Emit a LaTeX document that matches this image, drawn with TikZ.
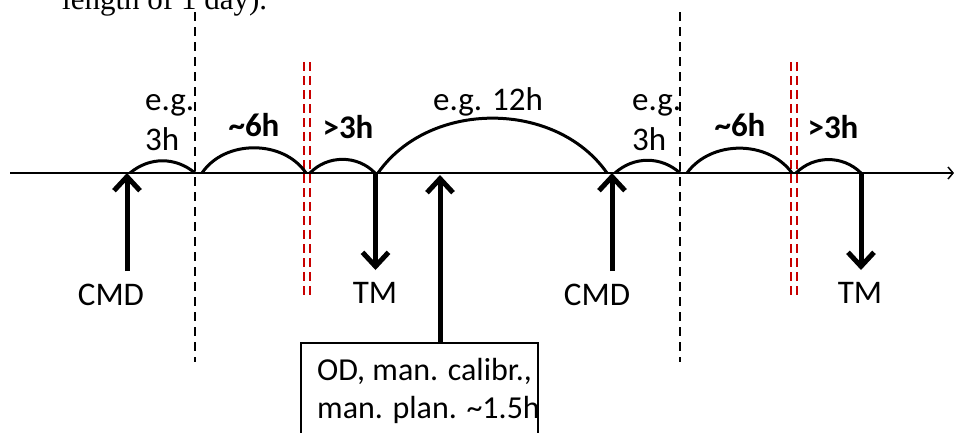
\documentclass[tikz,border=0pt]{standalone}
\usepackage{fontspec}
\setmainfont{Carlito}
\newfontfamily\serifdoc{Liberation Serif}
\usetikzlibrary{arrows.meta}
\definecolor{darkred}{RGB}{200,0,0}
\begin{document}
\begin{tikzpicture}[x=1pt,y=-1pt,
  lbl/.style={inner sep=0pt, font=\fontsize{33}{40}\selectfont},
  blbl/.style={inner sep=0pt, font=\fontsize{33}{40}\selectfont\bfseries},
  axisline/.style={line width=1.5pt, -{Straight Barb[length=5pt,width=12pt]}},
  span/.style={line width=3pt},
  dayline/.style={line width=2.4pt, dash pattern=on 9pt off 6pt},
  redline/.style={line width=2.5pt, draw=darkred, dash pattern=on 9pt off 5pt},
  bigarrow/.style={line width=5pt, -{Straight Barb[length=14pt,width=26pt]}},
]
\useasboundingbox (0,0) rectangle (954,432);
\clip (0,0) rectangle (954,432);

% cropped caption text at top
\node[anchor=base west, inner sep=0pt, font=\serifdoc\fontsize{31}{36}\selectfont] (caption) at (62,9) {length of 1 day).};

% day boundaries
\coordinate (d1t) at (195,12); \coordinate (d1b) at (195,362);
\coordinate (d2t) at (680,12); \coordinate (d2b) at (680,362);
\draw[dayline] (d1t) -- (d1b);
\draw[dayline] (d2t) -- (d2b);

% red double lines
\coordinate (r1t) at (304,62); \coordinate (r1b) at (304,299);
\coordinate (r2t) at (310,62); \coordinate (r2b) at (310,299);
\coordinate (r3t) at (791,62); \coordinate (r3b) at (791,299);
\coordinate (r4t) at (797,62); \coordinate (r4b) at (797,299);
\draw[redline] (r1t) -- (r1b);
\draw[redline] (r2t) -- (r2b);
\draw[redline] (r3t) -- (r3b);
\draw[redline] (r4t) -- (r4b);

% time axis
\coordinate (axL) at (10,173); \coordinate (axR) at (954,173);
\draw[axisline] (axL) -- (axR);

% span end points
\coordinate (p1) at (130,173);  \coordinate (p2) at (195,173);
\coordinate (p3) at (202,173);  \coordinate (p4) at (306,173);
\coordinate (p5) at (310,173);  \coordinate (p6) at (375,173);
\coordinate (p7) at (378,173);  \coordinate (p8) at (607,173);
\coordinate (p9) at (615,173);  \coordinate (p10) at (680,173);
\coordinate (p11) at (687,173); \coordinate (p12) at (792,173);
\coordinate (p13) at (796,173); \coordinate (p14) at (861,173);
\draw[span] (p1) to[bend left=40] (p2);
\draw[span] (p3) to[bend left=56] (p4);
\draw[span] (p5) to[bend left=46] (p6);
\draw[span] (p7) to[bend left=55] (p8);
\draw[span] (p9) to[bend left=42] (p10);
\draw[span] (p11) to[bend left=54] (p12);
\draw[span] (p13) to[bend left=45] (p14);

% span labels
\node[lbl, anchor=base west, align=left] (l1) at (145,150) {e.g.\\3h};
\node[blbl, anchor=base] (l2) at (254,136) {\textasciitilde6h};
\node[blbl, anchor=base] (l3) at (348,138) {>3h};
\node[lbl, anchor=base west] (l4) at (433,110) {e.g. 12h};
\node[lbl, anchor=base west, align=left] (l5) at (632,150) {e.g.\\3h};
\node[blbl, anchor=base] (l6) at (740,136) {\textasciitilde6h};
\node[blbl, anchor=base] (l7) at (833,138) {>3h};

% OD box
\coordinate (bxnw) at (301,343);
\coordinate (bxse) at (538,450);
\draw[line width=1.5pt] (bxnw) rectangle (bxse);
\node[lbl, anchor=base west, align=left, font=\fontsize{32}{38}\selectfont] (box) at (317,418)
      {OD, man. calibr.,\\man. plan. \textasciitilde1.5h};

% arrows
\coordinate (c1tail) at (127,271); \coordinate (c1tip) at (127,173);
\coordinate (t1tail) at (375.5,173); \coordinate (t1tip) at (375.5,270);
\coordinate (odtip) at (440,175);
\coordinate (c2tail) at (612,271); \coordinate (c2tip) at (612,173);
\coordinate (t2tail) at (861,173); \coordinate (t2tip) at (861,270);
\draw[bigarrow] (c1tail) -- (c1tip);
\draw[bigarrow] (t1tail) -- (t1tip);
\draw[bigarrow] (odtip |- bxnw) -- (odtip);
\draw[bigarrow] (c2tail) -- (c2tip);
\draw[bigarrow] (t2tail) -- (t2tip);

% arrow labels
\node[lbl, anchor=base] (cmd1) at (111,305) {CMD};
\node[lbl, anchor=base] (tm1) at (375,303) {TM};
\node[lbl, anchor=base] (cmd2) at (597,305) {CMD};
\node[lbl, anchor=base] (tm2) at (860,303) {TM};
\end{tikzpicture}
\end{document}
